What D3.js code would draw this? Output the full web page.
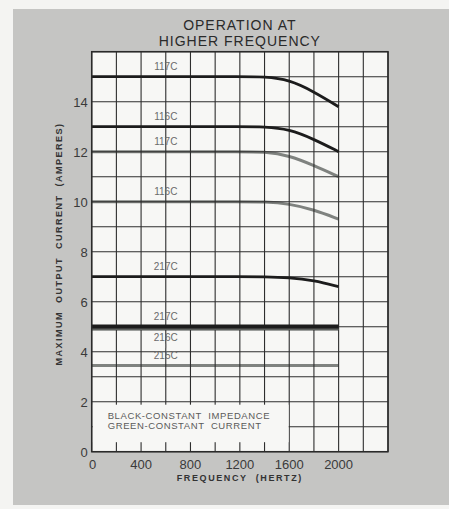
<!DOCTYPE html>
<html><head><meta charset="utf-8">
<script src="https://cdn.jsdelivr.net/npm/d3@7"></script>
<style>
html,body{margin:0;padding:0;background:#f4f4f2;}
svg{display:block;}
</style></head>
<body>
<svg id="c" width="449" height="509"></svg>
<script>
// ---- data ----
const freqs = [0, 400, 800, 1200, 1400, 1600, 1800, 2000];
const s117C_black = [15, 15, 15, 15, 15, 14.88, 14.4, 13.8];
const s116C_black = [13, 13, 13, 13, 13, 12.9, 12.5, 12.0];
const s117C_green = [12, 12, 12, 12, 12, 11.85, 11.45, 11.0];
const s116C_green = [10, 10, 10, 10, 10, 9.92, 9.68, 9.3];
const s217C_black7 = [7, 7, 7, 7, 7, 6.97, 6.85, 6.6];
const s217C_black5 = [5, 5, 5, 5, 5, 5, 5, 5];
const s216C_green = [4.9, 4.9, 4.9, 4.9, 4.9, 4.9, 4.9, 4.9];
const s215C_green = [3.45, 3.45, 3.45, 3.45, 3.45, 3.45, 3.45, 3.45];
const xTicks = [0, 400, 800, 1200, 1600, 2000];
const yTicks = [0, 2, 4, 6, 8, 10, 12, 14];
const titleLines = ["OPERATION AT", "HIGHER FREQUENCY"];
const legendLines = ["BLACK-CONSTANT  IMPEDANCE", "GREEN-CONSTANT  CURRENT"];

const series = [
  {name:"217C", vals:s217C_black5, type:"black5", lab:5},
  {name:"216C", vals:s216C_green, type:"green"},
  {name:"215C", vals:s215C_green, type:"green"},
  {name:"116C", vals:s116C_green, type:"green", lab:10},
  {name:"117C", vals:s117C_green, type:"green", lab:12},
  {name:"117C", vals:s117C_black, type:"black", lab:15},
  {name:"116C", vals:s116C_black, type:"black", lab:13},
  {name:"217C", vals:s217C_black7, type:"black", lab:7}
];

const svg = d3.select("#c");
const x = d3.scaleLinear().domain([0, 2400]).range([91.7, 388]);
const y = d3.scaleLinear().domain([0, 16]).range([451.7, 51.7]);
const font = "Liberation Sans, Arial, sans-serif";

// grey panel
svg.append("rect").attr("x",13).attr("y",9).attr("width",436).attr("height",496).attr("fill","#c5c5c3");
// plot background
svg.append("rect").attr("x",x(0)).attr("y",y(16)).attr("width",x(2400)-x(0)).attr("height",y(0)-y(16)).attr("fill","#f7f7f5");

// title
svg.selectAll("text.title").data(titleLines).enter().append("text")
  .attr("x", (x(0)+x(2400))/2).attr("y",(d,i)=>30+i*16)
  .attr("text-anchor","middle").attr("font-family",font)
  .attr("font-size",14).attr("letter-spacing",1).attr("fill","#2a2a2a").text(d=>d);

const lineGen = d3.line().x((d,i)=>x(freqs[i])).y(d=>y(d)).curve(d3.curveBasis);

// green lines (under grid)
series.filter(s=>s.type==="green").forEach(s=>{
  svg.append("path").attr("d",lineGen(s.vals)).attr("fill","none")
   .attr("stroke","#7f827f").attr("stroke-width",3);
});

// grid
const grid = svg.append("g").attr("stroke","#2e2e2e").attr("stroke-width",1.1);
d3.range(0,2401,200).forEach(f=>{
  grid.append("line").attr("x1",x(f)).attr("x2",x(f)).attr("y1",y(0)).attr("y2",y(16));
});
d3.range(0,17,1).forEach(v=>{
  grid.append("line").attr("x1",x(0)).attr("x2",x(2400)).attr("y1",y(v)).attr("y2",y(v));
});
// legend box (covers grid)
svg.append("rect").attr("x",x(0)+1).attr("y",y(1.88)).attr("width",x(1600)-x(0)-1.6)
  .attr("height",y(0.38)-y(1.88)).attr("fill","#f7f7f5");

// black lines
series.filter(s=>s.type!=="green").forEach(s=>{
  svg.append("path").attr("d",lineGen(s.vals)).attr("fill","none")
   .attr("stroke","#1c1c1c").attr("stroke-width",s.type==="black5"?4.5:2.8);
});
svg.append("path").attr("d",lineGen(s216C_green)).attr("fill","none").attr("stroke","#5e615e").attr("stroke-width",1.5);

// frame
svg.append("rect").attr("x",x(0)).attr("y",y(16)).attr("width",x(2400)-x(0)).attr("height",y(0)-y(16))
  .attr("fill","none").attr("stroke","#2a2a2a").attr("stroke-width",1.5);

// series labels
series.filter(s=>s.lab!==undefined).forEach(s=>{
  svg.append("text").attr("x",x(600)).attr("y",y(s.lab)-7).attr("text-anchor","middle")
    .attr("font-family",font).attr("font-size",10).attr("fill","#6a6a6a").text(s.name);
});
svg.append("text").attr("x",x(600)).attr("y",y(4.9)+12).attr("text-anchor","middle")
  .attr("font-family",font).attr("font-size",10).attr("fill","#6a6a6a").text("216C");
svg.append("line").attr("x1",x(600)).attr("x2",x(600)).attr("y1",y(4.9)+14.5).attr("y2",y(4.9)+19).attr("stroke","#777").attr("stroke-width",0.8);
svg.append("text").attr("x",x(600)).attr("y",y(3.45)-6).attr("text-anchor","middle")
  .attr("font-family",font).attr("font-size",10).attr("fill","#6a6a6a").text("215C");

// axes tick labels
svg.selectAll("text.yt").data(yTicks).enter().append("text")
  .attr("x",x(0)-4).attr("y",d=>y(d)+5).attr("text-anchor","end")
  .attr("font-family",font).attr("font-size",13).attr("fill","#3a3a3a").text(d=>d);
svg.selectAll("text.xt").data(xTicks).enter().append("text")
  .attr("x",d=>x(d)+ (d===0?1:0)).attr("y",y(0)+17).attr("text-anchor","middle")
  .attr("font-family",font).attr("font-size",13).attr("fill","#3a3a3a").text(d=>d);

svg.append("text").attr("x",(x(0)+x(2400))/2).attr("y",y(0)+29).attr("text-anchor","middle")
  .attr("font-family",font).attr("font-size",9).attr("font-weight","bold").attr("letter-spacing",1.6)
  .attr("fill","#333").style("white-space","pre").text("FREQUENCY  (HERTZ)");
svg.append("text").attr("transform",`translate(62,244) rotate(-90)`).attr("text-anchor","middle")
  .attr("font-family",font).attr("font-size",9).attr("font-weight","bold").attr("letter-spacing",1.5)
  .attr("fill","#333").style("white-space","pre").text("MAXIMUM  OUTPUT  CURRENT  (AMPERES)");

// legend text
svg.selectAll("text.lg").data(legendLines).enter().append("text")
  .attr("x",x(0)+16).attr("y",(d,i)=>y(1.3)+i*9.5)
  .attr("font-family",font).attr("font-size",9.5).attr("letter-spacing",0.6).attr("fill","#5a5a5a")
  .style("white-space","pre").text(d=>d);
</script>
</body></html>
